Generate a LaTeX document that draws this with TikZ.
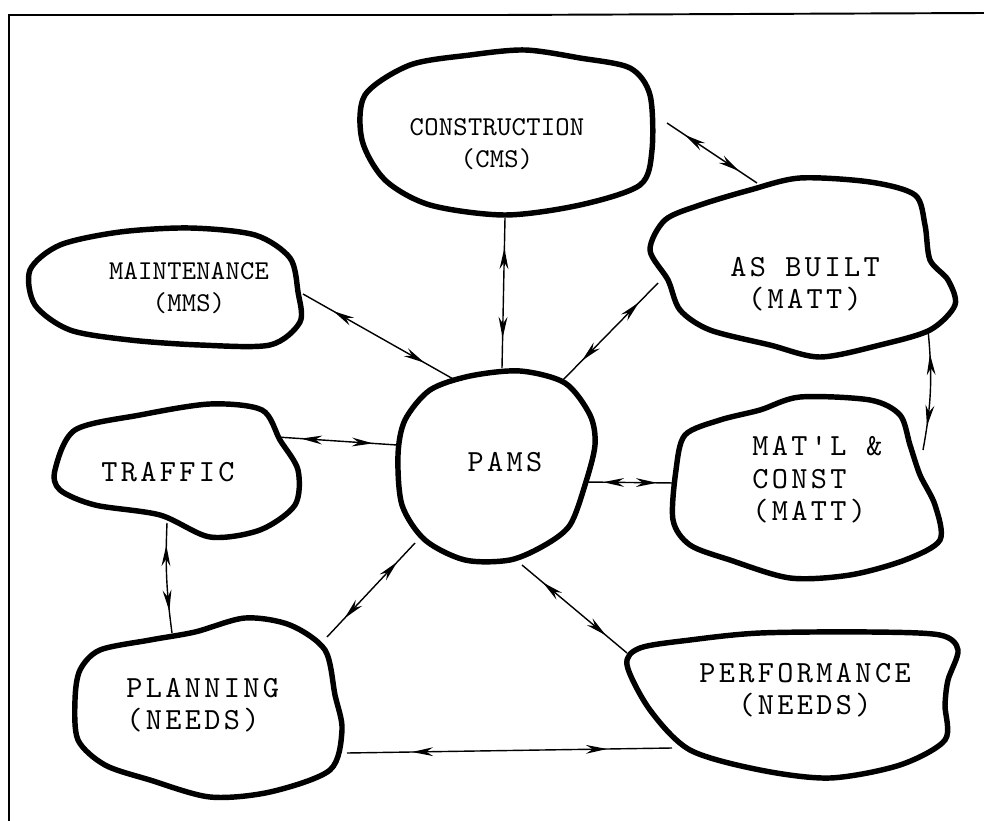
\documentclass[tikz,border=0pt]{standalone}
\usepackage{fontspec}
\usepackage{tikz}
\usetikzlibrary{positioning, arrows.meta, decorations.markings}
\newfontfamily\typew[LetterSpace=11]{lmmono10-regular.otf}
\newfontfamily\typewnarrow[LetterSpace=1]{lmmono10-regular.otf}

\tikzset{
  blobline/.style={line width=3.1pt, line join=round},
  frameline/.style={line width=1.1pt},
  link/.style={line width=0.8pt, postaction={decorate}, decoration={markings,
      mark=at position 0.2 with {\arrowreversed{Stealth[length=12pt, width=5pt]}},
      mark=at position 0.8 with {\arrow{Stealth[length=12pt, width=5pt]}}}},
  blobtext/.style={font=\typew\fontsize{17.5}{18.5}\selectfont, align=center, inner sep=0pt},
  narrowtext/.style={font=\typewnarrow\fontsize{15.5}{18.5}\selectfont, align=center, inner sep=0pt}
}

\begin{document}
\begin{tikzpicture}[x=0.02cm, y=-0.02cm]
  \useasboundingbox (0,0) rectangle (984,821);
  % frame
  \draw[frameline] (984,13) -- (500,15) -- (9,15) -- (9,821);

  % blobs
  \draw[blobline] plot[smooth cycle] coordinates {(365,95) (362,140) (385,180) (430,205) (505,215) (580,205) (640,185) (652,150) (650,95) (630,68) (580,58) (525,50) (470,55) (410,65)};
  \draw[blobline] plot[smooth cycle] coordinates {(30,270) (35,305) (70,330) (130,340) (200,345) (270,345) (300,322) (298,292) (290,258) (255,235) (190,228) (120,232) (60,245)};
  \draw[blobline] plot[smooth cycle] coordinates {(650,250) (668,280) (680,310) (710,330) (770,345) (820,357) (880,345) (930,330) (955,305) (948,280) (930,260) (925,225) (915,195) (870,182) (800,178) (750,190) (700,205) (665,220)};
  \draw[blobline] plot[smooth cycle] coordinates {(676,470) (673,520) (690,545) (730,560) (790,578) (850,575) (905,560) (940,540) (935,505) (920,475) (910,445) (900,415) (870,400) (800,397) (760,410) (720,420) (685,435)};
  \draw[blobline] plot[smooth cycle] coordinates {(398,455) (402,505) (425,540) (465,560) (510,560) (545,545) (570,525) (585,485) (595,445) (590,415) (565,383) (520,371) (470,376) (430,390) (405,420)};
  \draw[blobline] plot[smooth cycle] coordinates {(55,470) (60,490) (95,505) (160,515) (210,537) (260,530) (295,505) (298,470) (280,440) (262,410) (210,404) (140,415) (75,430)};
  \draw[blobline] plot[smooth cycle] coordinates {(75,700) (78,740) (105,765) (150,780) (210,797) (270,792) (330,770) (342,730) (335,695) (325,650) (290,625) (245,618) (195,632) (150,640) (100,650) (80,670)};
  \draw[blobline] plot[smooth cycle] coordinates {(627,665) (650,710) (690,750) (760,770) (830,778) (900,765) (945,740) (945,705) (948,680) (958,650) (940,635) (870,632) (760,633) (690,640) (640,648)};

  % labels
  \node[narrowtext] (cons) at (497,144) {CONSTRUCTION\\(CMS)};
  \node[narrowtext] (maint) at (189,288) {MAINTENANCE\\(MMS)};
  \node[blobtext] (asb) at (805,284) {AS BUILT\\(MATT)};
  \node[blobtext, align=left, anchor=west] (matl) at (752,480) {MAT'L \&\\CONST\\(MATT)};
  \node[blobtext] (pams) at (505,462) {PAMS};
  \node[blobtext] (traf) at (168,472) {TRAFFIC};
  \node[blobtext, align=left, anchor=west] (plan) at (126,705) {PLANNING\\(NEEDS)};
  \node[blobtext] (perf) at (805,690) {PERFORMANCE\\(NEEDS)};

  % connector ends
  \coordinate (cons-s) at (505,218);
  \coordinate (cons-e) at (667,123);
  \coordinate (maint-e) at (303,294);
  \coordinate (asb-n) at (757,183);
  \coordinate (asb-sw) at (658,283);
  \coordinate (asb-se) at (928,330);
  \coordinate (matl-ne) at (923,450);
  \coordinate (matl-w) at (675,483);
  \coordinate (pams-n) at (502,368);
  \coordinate (pams-nw) at (455,380);
  \coordinate (pams-ne) at (563,380);
  \coordinate (pams-e) at (585,482);
  \coordinate (pams-w) at (397,445);
  \coordinate (pams-sw) at (415,543);
  \coordinate (pams-se) at (522,565);
  \coordinate (traf-e) at (277,437);
  \coordinate (traf-s) at (167,523);
  \coordinate (plan-n) at (172,633);
  \coordinate (plan-ne) at (327,637);
  \coordinate (plan-e) at (347,753);
  \coordinate (perf-nw) at (627,653);
  \coordinate (perf-w) at (672,748);

  % connectors
  \draw[link] (cons-s) -- (pams-n);
  \draw[link] (maint-e) -- (pams-nw);
  \draw[link] (asb-sw) -- (pams-ne);
  \draw[link] (cons-e) -- (asb-n);
  \draw[link] (asb-se) to[bend left=8] (matl-ne);
  \draw[link] (matl-w) -- (pams-e);
  \draw[link] (pams-se) -- (perf-nw);
  \draw[link] (pams-w) -- (traf-e);
  \draw[link] (traf-s) to[bend right=5] (plan-n);
  \draw[link] (plan-ne) -- (pams-sw);
  \draw[link] (plan-e) -- (perf-w);
\end{tikzpicture}
\end{document}
